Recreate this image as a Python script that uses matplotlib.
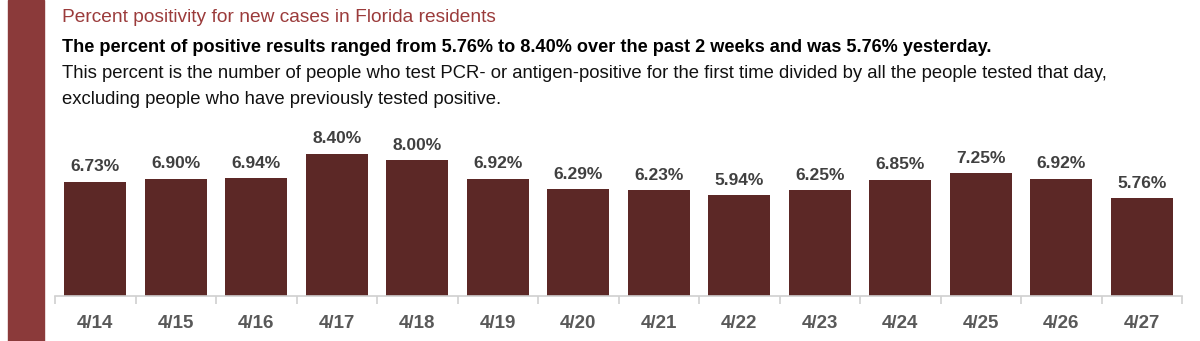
import matplotlib
matplotlib.use('Agg')

import matplotlib.pyplot as plt
import matplotlib.patches as patches
import numpy as np

dates = ['4/14', '4/15', '4/16', '4/17', '4/18', '4/19', '4/20',
         '4/21', '4/22', '4/23', '4/24', '4/25', '4/26', '4/27']
positivity = [6.73, 6.90, 6.94, 8.40, 8.00, 6.92, 6.29,
              6.23, 5.94, 6.25, 6.85, 7.25, 6.92, 5.76]

title = 'Percent positivity for new cases in Florida residents'
subtitle = ('The percent of positive results ranged from 5.76% to 8.40% '
            'over the past 2 weeks and was 5.76% yesterday.')
note1 = ('This percent is the number of people who test PCR- or antigen-positive '
         'for the first time divided by all the people tested that day,')
note2 = 'excluding people who have previously tested positive.'

plt.rcParams['font.family'] = ['Liberation Sans', 'DejaVu Sans']

W, H = 1200, 341
fig = plt.figure(figsize=(W / 100, H / 100), dpi=100)

# red band on the left
fig.patches.append(patches.Rectangle((8 / W, 0), 36 / W, 1, transform=fig.transFigure,
                                     color='#8B3A3A', zorder=0))

fig.text(62 / W, 1 - 17 / H, title, color='#9B3B3B', fontsize=13.8, va='center')
fig.text(62 / W, 1 - 47 / H, subtitle, color='black', fontsize=13.1,
         fontweight='bold', va='center')
fig.text(62 / W, 1 - 74 / H, note1, color='#111111', fontsize=13.3, va='center')
fig.text(62 / W, 1 - 99 / H, note2, color='#111111', fontsize=13.3, va='center')

ax = fig.add_axes([55 / W, 1 - 296 / H, 1127 / W, 176 / H])
x = np.arange(len(dates))
bars = ax.bar(x, positivity, width=0.77, color='#5C2826', zorder=2)
ax.set_xlim(-0.5, len(dates) - 0.5)
ax.set_ylim(0, 176 / 16.94)

for xi, v in zip(x, positivity):
    ax.text(xi, v + 0.45, '%.2f%%' % v, ha='center', va='bottom',
            fontsize=12.5, fontweight='bold', color='#404040')

for s in ['top', 'right', 'left']:
    ax.spines[s].set_visible(False)
ax.spines['bottom'].set_color('#D0D0D0')
ax.spines['bottom'].set_linewidth(1.2)
ax.set_yticks([])
ax.set_xticks(x)
ax.set_xticklabels(dates, fontsize=13.5, fontweight='bold', color='#595959')
ax.set_xticks(np.arange(-0.5, len(dates)), minor=True)
ax.tick_params(axis='x', which='major', length=0, pad=14)
ax.tick_params(axis='x', which='minor', length=6, color='#D0D0D0', width=1.2)

plt.savefig('out.png', dpi=100)
